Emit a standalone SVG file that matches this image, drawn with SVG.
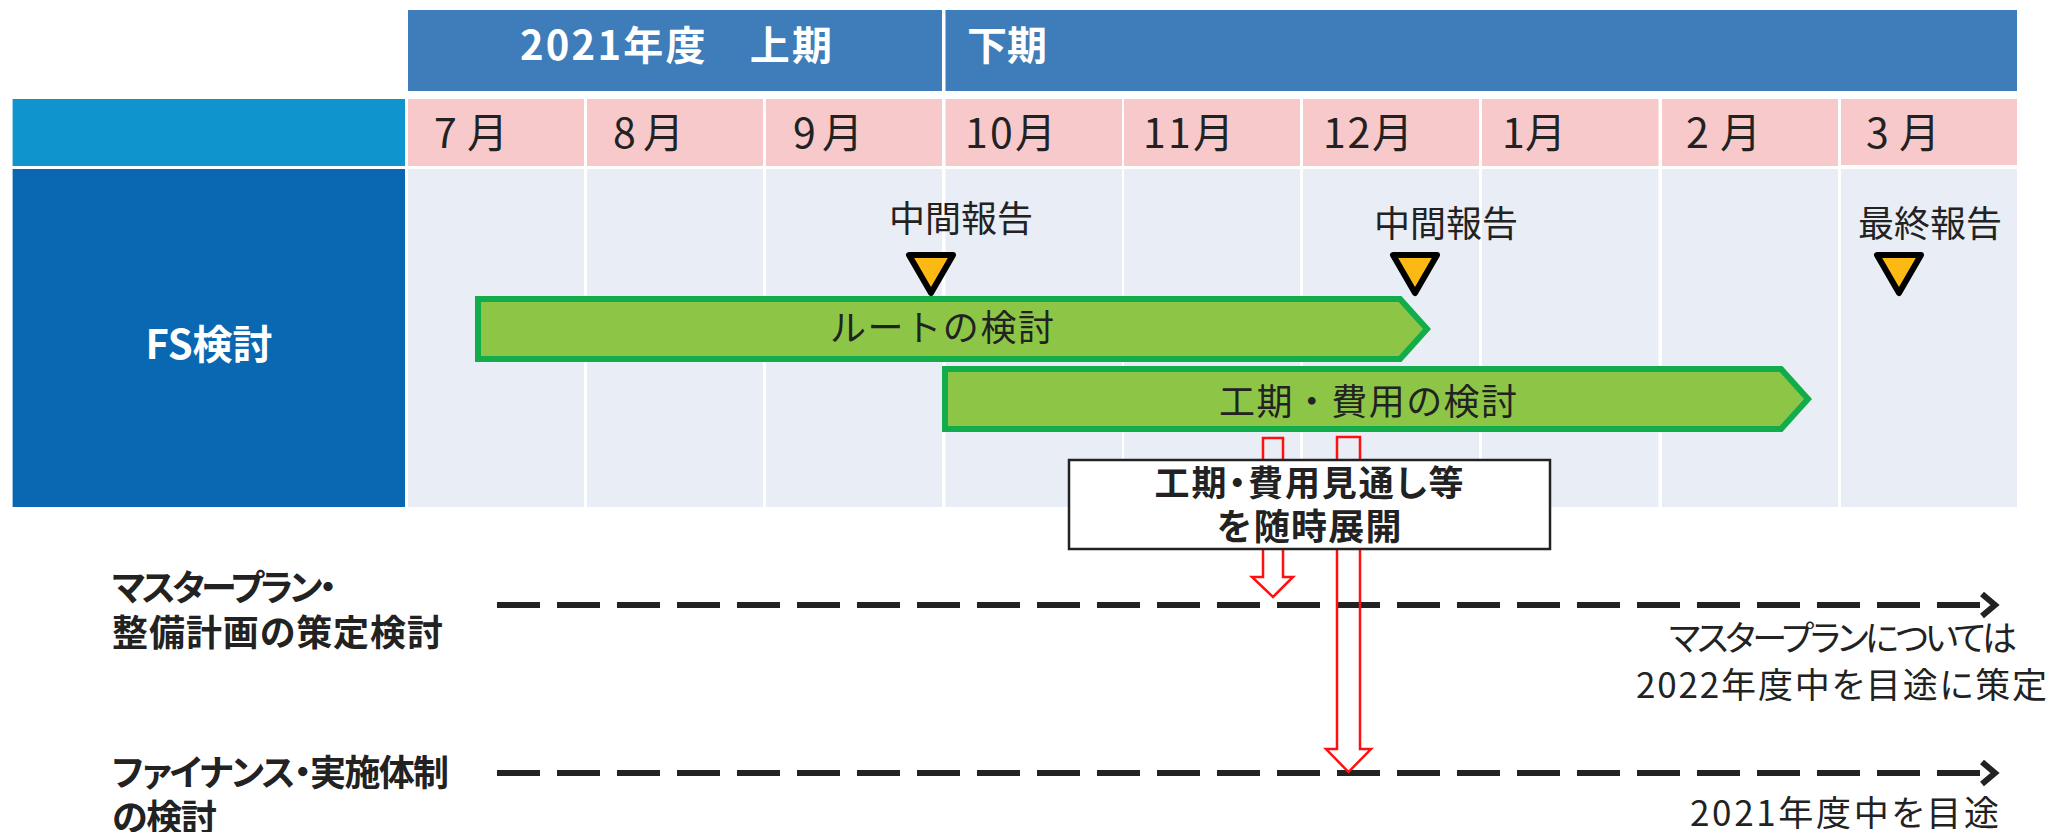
<svg xmlns="http://www.w3.org/2000/svg" width="2051" height="832" viewBox="0 0 2051 832">
<style>
text{font-family:"Noto Sans CJK JP","Noto Sans",sans-serif;fill:#222}
.hd{fill:#3E7DBA}
.pk{fill:#F8C9CA}
.gr{fill:#E9EDF5}
.wt{fill:#fff;font-weight:700;font-size:40px}
.mo{font-size:41px}
.ms{font-size:36px}
.bar{fill:#8DC646;stroke:#12AD4A;stroke-width:6;stroke-linejoin:miter}
.tri{fill:#FDB913;stroke:#000;stroke-width:6;stroke-linejoin:round}
.dash{stroke:#222;stroke-width:6;stroke-dasharray:43 17;fill:none}
.chev{stroke:#222;stroke-width:6;fill:none;stroke-linejoin:miter}
.rarr{fill:none;stroke:#FF1010;stroke-width:2.5}
.lbl{font-size:36px;font-weight:700;font-feature-settings:"palt"}
.note{font-size:35px;font-feature-settings:"palt"}
</style>
<rect width="2051" height="832" fill="#fff"/>
<g id="header">
<rect class="hd" x="408" y="10" width="534" height="81"/>
<rect class="hd" x="945.5" y="10" width="1071.5" height="81"/>
<text class="wt" x="520" y="60" textLength="312">2021年度　上期</text>
<text class="wt" x="967" y="60">下期</text>
</g>
<g id="months">
<rect x="12.6" y="99" width="392.4" height="67" fill="#0F94CD"/>
<rect class="pk" x="408" y="99" width="176" height="67"/>
<rect class="pk" x="587" y="99" width="176" height="67"/>
<rect class="pk" x="766" y="99" width="176" height="67"/>
<rect class="pk" x="945.5" y="99" width="176.5" height="67"/>
<rect class="pk" x="1124" y="99" width="176" height="67"/>
<rect class="pk" x="1303" y="99" width="176" height="67"/>
<rect class="pk" x="1482" y="99" width="176.5" height="67"/>
<rect class="pk" x="1662" y="99" width="176" height="67"/>
<rect class="pk" x="1841" y="99" width="176" height="66"/>
<text class="mo" x="434" y="148" textLength="74">7月</text>
<text class="mo" x="613" y="148" textLength="71">8月</text>
<text class="mo" x="793" y="148" textLength="70">9月</text>
<text class="mo" x="965" y="148" textLength="91">10月</text>
<text class="mo" x="1143" y="148" textLength="91">11月</text>
<text class="mo" x="1323" y="148" textLength="90">12月</text>
<text class="mo" x="1502" y="148" textLength="64">1月</text>
<text class="mo" x="1686" y="148" textLength="75">2月</text>
<text class="mo" x="1866" y="148" textLength="74">3月</text>
</g>
<g id="fs-row">
<rect x="12.6" y="169" width="392.4" height="338" fill="#0A68B2"/>
<rect class="gr" x="408" y="169" width="176" height="338"/>
<rect class="gr" x="587" y="169" width="176" height="338"/>
<rect class="gr" x="766" y="169" width="176" height="338"/>
<rect class="gr" x="945.5" y="169" width="176.5" height="338"/>
<rect class="gr" x="1124" y="169" width="176" height="338"/>
<rect class="gr" x="1303" y="169" width="176" height="338"/>
<rect class="gr" x="1482" y="169" width="176.5" height="338"/>
<rect class="gr" x="1662" y="169" width="176" height="338"/>
<rect class="gr" x="1841" y="169" width="176" height="338"/>
<text class="wt" x="209" y="359" text-anchor="middle" font-size="42">FS検討</text>
</g>
<g id="milestone-1">
<text class="ms" x="961" y="232" text-anchor="middle">中間報告</text>
<polygon class="tri" points="909,255 953,255 931,293"/>
</g>
<g id="milestone-2">
<text class="ms" x="1446" y="237" text-anchor="middle">中間報告</text>
<polygon class="tri" points="1393,255 1437,255 1415,293"/>
</g>
<g id="milestone-3">
<text class="ms" x="1930" y="237" text-anchor="middle">最終報告</text>
<polygon class="tri" points="1877,255 1921,255 1899,293"/>
</g>
<g id="bar-route">
<polygon class="bar" points="478,299 1400,299 1427,329 1400,359 478,359"/>
<text class="ms" x="942" y="341" text-anchor="middle" textLength="224">ルートの検討</text>
</g>
<g id="bar-cost">
<polygon class="bar" points="945,369 1781,369 1808,399 1781,429 945,429"/>
<text class="ms" x="1368" y="415" text-anchor="middle" textLength="298">工期・費用の検討</text>
</g>
<g id="connectors">
<path d="M497,605 H1980" class="dash"/>
<polyline class="chev" points="1982,594 1995,605 1982,616"/>
<path d="M497,773 H1980" class="dash"/>
<polyline class="chev" points="1982,762 1995,773 1982,784"/>
<path class="rarr" d="M1263,438 V577 H1252 L1273,597 L1293,577 H1283 V438 Z"/>
<path class="rarr" d="M1337,437 V749 H1326 L1348.5,772 L1371,749 H1360 V437 Z"/>
</g>
<g id="share-box">
<rect x="1069" y="460" width="481" height="89" fill="#fff" stroke="#222" stroke-width="2.5"/>
<text x="1309" y="496" text-anchor="middle" font-size="35" font-weight="700" textLength="309" style="font-feature-settings:'palt'">工期・費用見通し等</text>
<text x="1309" y="540" text-anchor="middle" font-size="36" font-weight="700" textLength="185">を随時展開</text>
</g>
<g id="label-masterplan">
<text class="lbl" x="112" y="601" textLength="225">マスタープラン・</text>
<text class="lbl" x="112" y="646" textLength="331">整備計画の策定検討</text>
</g>
<g id="label-finance">
<text class="lbl" x="112" y="786" textLength="337">ファイナンス・実施体制</text>
<text class="lbl" x="112" y="831" textLength="105">の検討</text>
</g>
<g id="note-masterplan">
<text class="note" x="1669" y="651" textLength="348">マスタープランについては</text>
<text class="note" x="1636" y="698" textLength="411">2022年度中を目途に策定</text>
</g>
<g id="note-finance">
<text class="note" x="1690" y="826" textLength="309">2021年度中を目途</text>
</g>
</svg>
